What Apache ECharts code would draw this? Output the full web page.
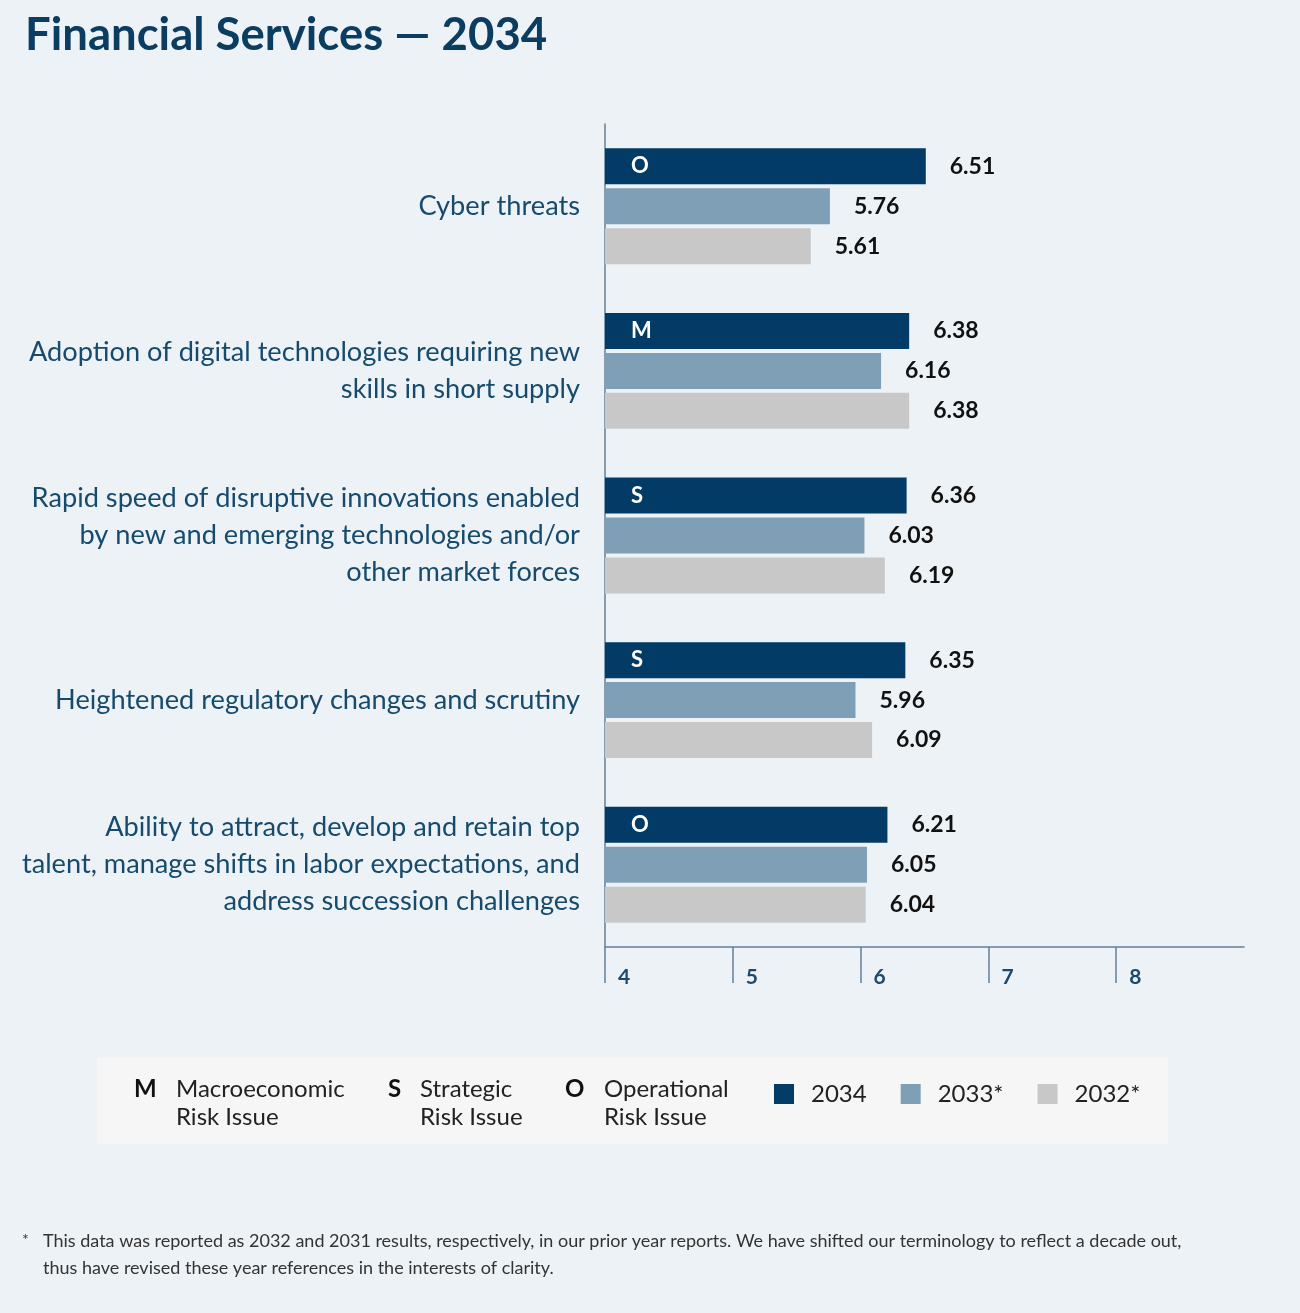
<!DOCTYPE html>
<html>
<head>
<meta charset="utf-8">
<title>Financial Services — 2034</title>
<script src="https://cdn.jsdelivr.net/npm/echarts@6/dist/echarts.min.js"></script>
<style>
    html, body { margin: 0; padding: 0; background: #edf2f6; }
    #chart { width: 1300px; height: 1313px; }
</style>
</head>
<body>
<div id="chart"></div>
<script>
    // data
    let categories = [
        'Cyber threats',
        'Adoption of digital technologies requiring new\nskills in short supply',
        'Rapid speed of disruptive innovations enabled\nby new and emerging technologies and/or\nother market forces',
        'Heightened regulatory changes and scrutiny',
        'Ability to attract, develop and retain top\ntalent, manage shifts in labor expectations, and\naddress succession challenges'
    ];
    let riskType = ['O', 'M', 'S', 'S', 'O'];
    let values2034 = [6.51, 6.38, 6.36, 6.35, 6.21];
    let values2033 = [5.76, 6.16, 6.03, 5.96, 6.05];
    let values2032 = [5.61, 6.38, 6.19, 6.09, 6.04];
    let xTicks = [4, 5, 6, 7, 8];

    let colorList = ['#023b65', '#7f9fb6', '#c8c8c8'];
    let fontFamily = 'Lato, "Noto Sans", sans-serif';
    let axisColor = '#61809a';

    let chart = echarts.init(document.getElementById('chart'));

    let valueLabel = {
        show: true,
        position: 'right',
        distance: 24,
        fontFamily: fontFamily,
        fontWeight: 'bold',
        fontSize: 23,
        color: '#111'
    };

    function $extend(a, b) {
        let out = {};
        for (let k in a) { out[k] = a[k]; }
        for (let k in b) { out[k] = b[k]; }
        return out;
    }

    function legendKey(letterX, letter, textX, text) {
        return {
            type: 'group',
            children: [
                {
                    type: 'text',
                    x: letterX,
                    y: 1077,
                    style: { text: letter, font: 'bold 24px ' + fontFamily, fill: '#111' }
                },
                {
                    type: 'text',
                    x: textX,
                    y: 1075,
                    style: { text: text, font: '24px ' + fontFamily, lineHeight: 28, fill: '#222' }
                }
            ]
        };
    }

    let option = {
        backgroundColor: '#edf2f6',
        animation: false,
        color: colorList,
        title: {
            text: 'Financial Services — 2034',
            left: 20,
            top: 7,
            textStyle: {
                fontFamily: fontFamily,
                fontWeight: 'bold',
                fontSize: 45.5,
                color: '#0b3d61'
            }
        },
        legend: {
            data: ['2034', '2033*', '2032*'],
            left: 769,
            top: 1077,
            itemWidth: 20,
            itemHeight: 20,
            itemGap: 34,
            icon: 'rect',
            textStyle: {
                fontFamily: fontFamily,
                fontSize: 24,
                color: '#222',
                padding: [0, 0, 0, 12]
            }
        },
        grid: {
            left: 605,
            top: 124,
            right: 56,
            bottom: 366
        },
        xAxis: {
            type: 'value',
            min: 4,
            max: 9,
            interval: 1,
            splitLine: { show: false },
            axisLine: { show: true, lineStyle: { color: axisColor, width: 1.5 } },
            axisTick: {
                show: true,
                length: 36,
                customValues: xTicks,
                lineStyle: { color: axisColor, width: 1.5 }
            },
            axisLabel: {
                customValues: xTicks,
                align: 'left',
                margin: 20,
                padding: [0, 0, 0, 13],
                fontFamily: fontFamily,
                fontWeight: 'bold',
                fontSize: 21,
                color: '#1d4a6c'
            }
        },
        yAxis: {
            type: 'category',
            inverse: true,
            data: categories,
            axisLine: { show: true, lineStyle: { color: axisColor, width: 1.5 } },
            axisTick: { show: false },
            axisLabel: {
                margin: 25,
                align: 'right',
                fontFamily: fontFamily,
                fontSize: 27.2,
                lineHeight: 37,
                color: '#164b6d'
            }
        },
        series: [
            {
                name: '2034',
                type: 'bar',
                stack: 'cur',
                barWidth: 36,
                barGap: '11%',
                data: values2034,
                label: {
                    show: true,
                    position: 'insideLeft',
                    distance: 26,
                    fontFamily: fontFamily,
                    fontWeight: 'bold',
                    fontSize: 22,
                    color: '#fff',
                    formatter: function (p) {
                        return riskType[p.dataIndex];
                    }
                }
            },
            {
                // zero-width helper on top of 2034, only carries the value label
                name: '2034 value',
                type: 'bar',
                stack: 'cur',
                barWidth: 36,
                barGap: '11%',
                data: values2034.map(function () { return 0; }),
                itemStyle: { color: 'rgba(0,0,0,0)' },
                label: $extend(valueLabel, {
                    formatter: function (p) {
                        return values2034[p.dataIndex].toFixed(2);
                    }
                })
            },
            {
                name: '2033*',
                type: 'bar',
                barWidth: 36,
                barGap: '11%',
                data: values2033,
                label: $extend(valueLabel, {
                    formatter: function (p) { return p.value.toFixed(2); }
                })
            },
            {
                name: '2032*',
                type: 'bar',
                barWidth: 36,
                barGap: '11%',
                data: values2032,
                label: $extend(valueLabel, {
                    formatter: function (p) { return p.value.toFixed(2); }
                })
            }
        ],
        graphic: [
            {
                type: 'rect',
                z: -1,
                shape: { x: 97, y: 1058, width: 1071, height: 86 },
                style: { fill: '#f6f6f6' }
            },
            legendKey(134, 'M', 176, 'Macroeconomic\nRisk Issue'),
            legendKey(388, 'S', 420, 'Strategic\nRisk Issue'),
            legendKey(565, 'O', 604, 'Operational\nRisk Issue'),
            {
                type: 'text',
                left: 22,
                top: 1232,
                style: { text: '*', font: '16px ' + fontFamily, fill: '#333' }
            },
            {
                type: 'text',
                left: 43,
                top: 1228,
                style: {
                    text: 'This data was reported as 2032 and 2031 results, respectively, in our prior year reports. We have shifted our terminology to reflect a decade out,\nthus have revised these year references in the interests of clarity.',
                    font: '18px ' + fontFamily,
                    lineHeight: 27,
                    fill: '#333'
                }
            }
        ]
    };

    chart.setOption(option);
</script>
</body>
</html>
